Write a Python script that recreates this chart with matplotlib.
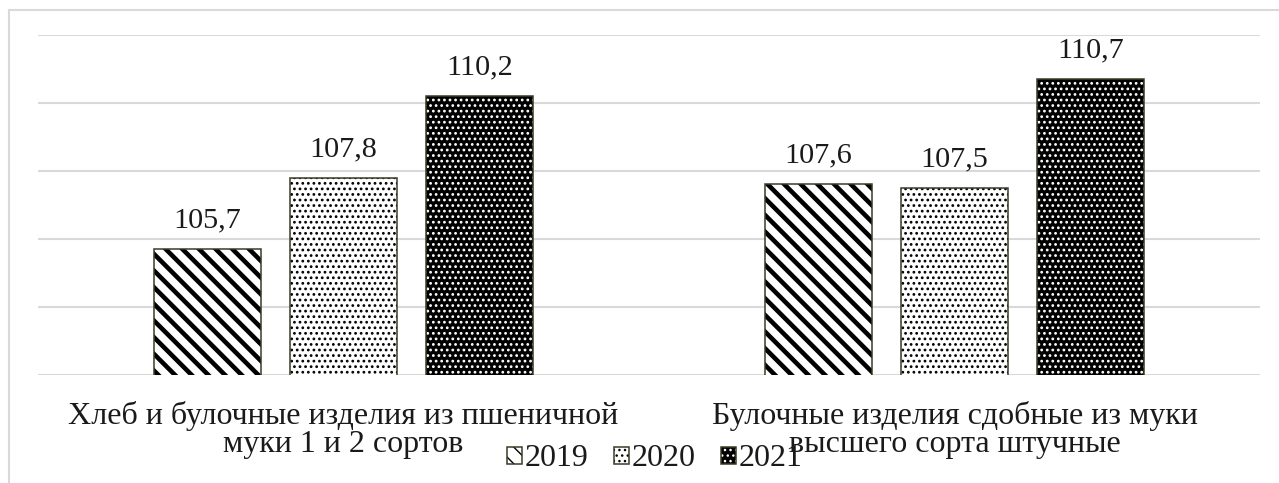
import matplotlib
matplotlib.use("Agg")
import matplotlib.pyplot as plt
import numpy as np
from matplotlib.patches import Rectangle
from matplotlib.legend_handler import HandlerTuple

categories = ["Хлеб и булочные изделия из пшеничной\nмуки 1 и 2 сортов",
              "Булочные изделия сдобные из муки\nвысшего сорта штучные"]
series_names = ["2019", "2020", "2021"]
values_2019 = [105.7, 107.6]
values_2020 = [107.8, 107.5]
values_2021 = [110.2, 110.7]

plt.rcParams['font.family'] = ['Liberation Serif', 'DejaVu Serif']
FS_VAL = 21.8
FS_CAT = 23
EDGE = '#3d3a26'
GRID = '#d9d9d9'
TXT = '#1a1a1a'

W, H = 1279, 483
fig = plt.figure(figsize=(W / 100, H / 100), dpi=100)
ax = fig.add_axes([38 / W, 1 - 375 / H, (1260 - 38) / W, (375 - 34.5) / H])

x = np.arange(len(categories))
bw = 0.175
pitch = 0.2226


def hatched_bar(xs, vals, hatch, face, hcolor, hlw):
    with plt.rc_context({'hatch.linewidth': hlw}):
        bars = ax.bar(xs, vals, bw, color=face, edgecolor=hcolor, hatch=hatch,
                      linewidth=0, zorder=3)
        for p in bars:
            if hasattr(p, 'set_hatch_linewidth'):
                p.set_hatch_linewidth(hlw)
    return bars


b19 = hatched_bar(x - pitch, values_2019, '\\\\', 'white', 'black', 3.3)
b19e = ax.bar(x - pitch, values_2019, bw, fill=False, edgecolor=EDGE, linewidth=1.1, zorder=4)
b20 = hatched_bar(x, values_2020, '...', 'white', 'black', 1.2)
b20e = ax.bar(x, values_2020, bw, fill=False, edgecolor=EDGE, linewidth=1.1, zorder=4)
b21 = hatched_bar(x + pitch, values_2021, '...', 'black', 'white', 1.2)
b21e = ax.bar(x + pitch, values_2021, bw, fill=False, edgecolor=EDGE, linewidth=1.1, zorder=4)

for offs, vals in [(-pitch, values_2019), (0, values_2020), (pitch, values_2021)]:
    for xi, v in zip(x + offs, vals):
        ax.annotate(f"{v:.1f}".replace('.', ','), (xi, v), xytext=(0, 15.5),
                    textcoords='offset points', ha='center', va='baseline',
                    fontsize=FS_VAL, color=TXT)

ax.set_xlim(-0.5, 1.5)
ax.set_ylim(102, 112)
ax.set_yticks(np.arange(102, 112.1, 2))
ax.yaxis.grid(True, color=GRID, linewidth=1.5, zorder=0)
ax.set_axisbelow(True)
ax.tick_params(axis='y', left=False, labelleft=False)
ax.set_xticks(x)
ax.set_xticklabels(categories, fontsize=FS_CAT, linespacing=0.98, color=TXT)
ax.tick_params(axis='x', bottom=False, pad=15)
for s in ax.spines.values():
    s.set_visible(False)

handles = [(b19[0], b19e[0]), (b20[0], b20e[0]), (b21[0], b21e[0])]
leg = fig.legend(handles, series_names, loc='center',
                 bbox_to_anchor=(655 / W, 1 - 459 / H), ncol=3, frameon=False,
                 fontsize=FS_CAT, handlelength=0.45, handleheight=0.45,
                 handletextpad=0.1, columnspacing=0.8, borderaxespad=0,
                 handler_map={tuple: HandlerTuple(ndivide=1, pad=0)})
for t in leg.get_texts():
    t.set_color(TXT)

fig.add_artist(Rectangle((9 / W, -0.1), 1.2, 1.1 - 10 / H, transform=fig.transFigure,
                         fill=False, edgecolor=GRID, linewidth=1.5))

fig.savefig("out.png", dpi=100)
